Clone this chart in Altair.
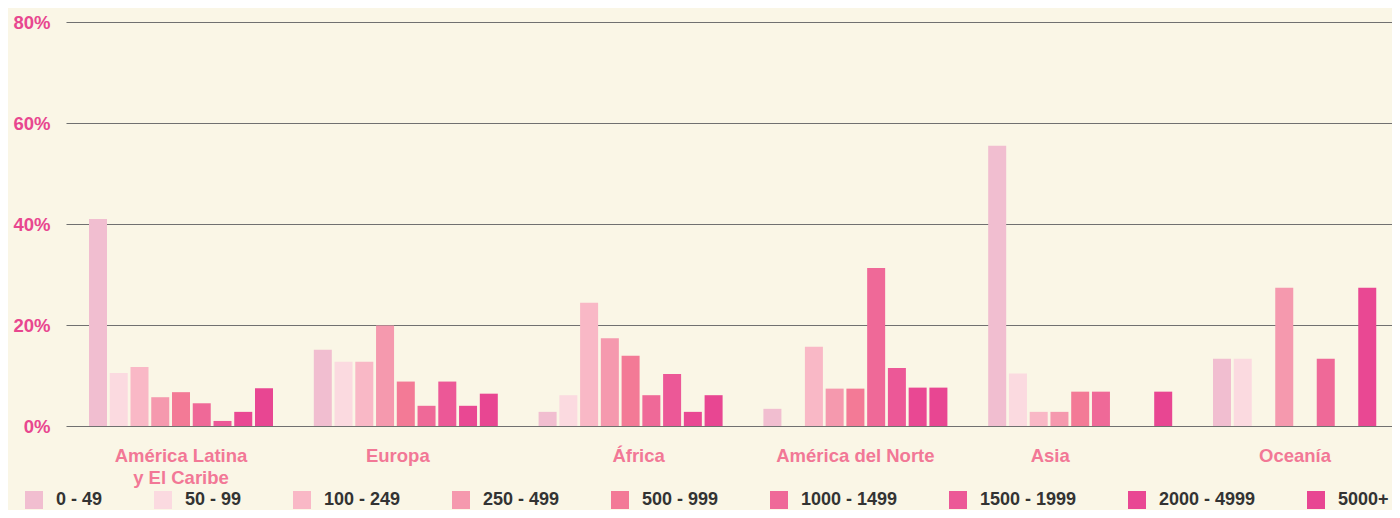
import altair as alt
import pandas as pd

regions = ["América Latina y El Caribe", "Europa", "África", "América del Norte", "Asia", "Oceanía"]
ranges = ["0 - 49", "50 - 99", "100 - 249", "250 - 499", "500 - 999",
          "1000 - 1499", "1500 - 1999", "2000 - 4999", "5000+"]
colors = ["#F1BED0", "#FBDAE0", "#F9B8C6", "#F599AE", "#F37A96",
          "#EF6998", "#EC5897", "#E94893", "#E84692"]

v_alc = [41.0, 10.5, 11.7, 5.7, 6.7, 4.5, 1.0, 2.8, 7.5]
v_europa = [15.1, 12.7, 12.7, 19.9, 8.8, 4.0, 8.8, 4.0, 6.4]
v_africa = [2.8, 6.1, 24.4, 17.4, 13.9, 6.1, 10.3, 2.8, 6.1]
v_norte = [3.4, None, 15.7, 7.4, 7.4, 31.3, 11.5, 7.6, 7.6]
v_asia = [55.5, 10.4, 2.8, 2.8, 6.8, 6.8, None, None, 6.8]
v_oceania = [13.3, 13.3, None, 27.4, None, 13.3, None, 27.4, None]

y_ticks = [0, 20, 40, 60, 80]

rows = []
for reg, vals in zip(regions, [v_alc, v_europa, v_africa, v_norte, v_asia, v_oceania]):
    for rg, v in zip(ranges, vals):
        if v is not None:
            rows.append({"region": reg, "range": rg, "pct": v})
df = pd.DataFrame(rows)

FONT = "Liberation Sans"

label_shift = ("datum.value == 'Europa' ? -8 : datum.value == 'África' ? 8 : "
               "datum.value == 'Asia' ? -30 : datum.value == 'Oceanía' ? -10 : 0")

chart = alt.Chart(df).mark_bar().encode(
    x=alt.X(
        "region:N",
        sort=regions,
        scale=alt.Scale(range=[0, 1354], paddingInner=0.1815, paddingOuter=0.1023),
        axis=alt.Axis(
            title=None,
            labelExpr="datum.value == 'América Latina y El Caribe' ? ['América Latina', 'y El Caribe'] : datum.value",
            labelFont=FONT,
            labelFontSize=18.5,
            labelFontWeight="bold",
            labelColor="#F27896",
            labelPadding=20,
            labelLineHeight=22,
            labelAngle=0,
            labelLimit=300,
            labelOffset=alt.ExprRef(label_shift),
            ticks=False,
            domain=False,
            grid=False,
        ),
    ),
    xOffset=alt.XOffset(
        "range:N",
        sort=ranges,
        scale=alt.Scale(paddingInner=0.1325, paddingOuter=0),
    ),
    y=alt.Y(
        "pct:Q",
        scale=alt.Scale(domain=[0, 80], nice=False),
        axis=alt.Axis(
            title=None,
            values=y_ticks,
            labelExpr="datum.value + '%'",
            labelFont=FONT,
            labelFontSize=18.5,
            labelFontWeight="bold",
            labelColor="#E8478F",
            labelPadding=16,
            ticks=False,
            domain=False,
            grid=True,
            gridColor="#707070",
            gridWidth=1.2,
        ),
    ),
    color=alt.Color(
        "range:N",
        sort=ranges,
        scale=alt.Scale(domain=ranges, range=colors),
        legend=alt.Legend(
            title=None,
            orient="none",
            legendX=-41,
            legendY=469,
            direction="horizontal",
            columns=9,
            symbolType="square",
            symbolSize=324,
            symbolStrokeWidth=0,
            symbolOpacity=1,
            labelFont=FONT,
            labelFontSize=18,
            labelFontWeight="bold",
            labelColor="#333333",
            labelOffset=13,
            columnPadding=51,
            padding=0,
            labelLimit=300,
        ),
    ),
).properties(
    width=1326,
    height=404,
    padding={"left": 58, "top": 14, "right": 0, "bottom": 84},
    autosize=alt.AutoSizeParams(type="none"),
    background="#FAF6E6",
).configure_view(stroke=None)

chart.save("out.html", embed_options={"renderer": "svg", "actions": False})
